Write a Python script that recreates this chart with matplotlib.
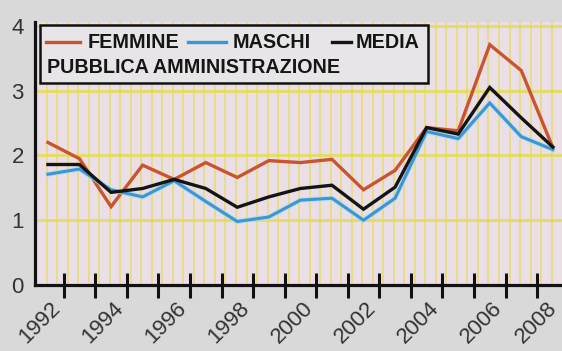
import matplotlib
matplotlib.use("Agg")
import matplotlib.pyplot as plt
from matplotlib.ticker import MultipleLocator, FixedLocator, NullFormatter
from matplotlib.lines import Line2D
from matplotlib.patches import Rectangle
import matplotlib.transforms as mtransforms
import numpy as np

years = list(range(1992, 2009))
femmine = [2.20, 1.95, 1.21, 1.85, 1.63, 1.89, 1.66, 1.92, 1.89, 1.94, 1.47, 1.77, 2.43, 2.38, 3.71, 3.31, 2.12]
maschi  = [1.71, 1.79, 1.47, 1.36, 1.61, 1.29, 0.98, 1.05, 1.31, 1.34, 1.00, 1.34, 2.37, 2.26, 2.81, 2.29, 2.09]
media   = [1.86, 1.86, 1.43, 1.49, 1.63, 1.49, 1.20, 1.36, 1.49, 1.54, 1.17, 1.51, 2.43, 2.33, 3.05, 2.58, 2.13]
xlabels = ["1992", "1994", "1996", "1998", "2000", "2002", "2004", "2006", "2008"]
yticks = [0, 1, 2, 3, 4]
legend_names = ["FEMMINE", "MASCHI", "MEDIA"]
legend_sub = "PUBBLICA AMMINISTRAZIONE"

RED = "#c9542f"
BLUE = "#3a96d4"
BLACK = "#141414"
W, H = 562, 351

fig = plt.figure(figsize=(W / 100, H / 100), dpi=100)
fig.patch.set_facecolor("#dad9da")
ax = fig.add_axes([35 / W, (H - 285) / H, 1 - 35 / W, (285 - 22) / H])
ax.set_facecolor("#eadfe6")

ax.set_xlim(1991.59, 2008.29)
ax.set_ylim(0, 4.06)

# yellow grid
ax.xaxis.set_minor_locator(MultipleLocator(1 / 3, offset=0.96))
ax.grid(which="minor", axis="x", color="#e6dc6a", lw=1.3, alpha=0.8)
ax.yaxis.set_major_locator(FixedLocator(yticks))
ax.grid(which="major", axis="y", color="#e3dc4c", lw=2.0, alpha=0.85)
ax.set_axisbelow(True)

# lines
ax.plot(years, femmine, color=RED, lw=2.4, solid_joinstyle="miter", zorder=3)
ax.plot(years, maschi, color="#a8dcf2", lw=3.6, zorder=3.5, alpha=0.7)
ax.plot(years, maschi, color=BLUE, lw=2.2, solid_joinstyle="miter", zorder=4)
ax.plot(years, media, color=BLACK, lw=2.4, solid_joinstyle="miter", zorder=5)

# spines
for s in ["top", "right"]:
    ax.spines[s].set_visible(False)
for s in ["left", "bottom"]:
    ax.spines[s].set_linewidth(2.3)
    ax.spines[s].set_color("#111111")
    ax.spines[s].set_zorder(6)

# y ticks
ax.set_yticks(yticks)
ax.set_yticklabels([str(v) for v in yticks], fontsize=16, color="#333333",
                   family="Liberation Sans")
ax.tick_params(axis="y", which="both", length=0, pad=8)

# x ticks: between years, crossing the axis
ax.xaxis.set_major_locator(FixedLocator([y + 0.5 for y in years[:-1]]))
ax.xaxis.set_major_formatter(NullFormatter())
ax.tick_params(axis="x", which="major", direction="inout", length=18, width=2.2,
               color="#111111")
ax.tick_params(axis="x", which="minor", length=0)

trans = mtransforms.blended_transform_factory(ax.transData, ax.transAxes)
for lab in xlabels:
    xv = min(int(lab) + 0.3, 2008.03)
    ax.text(xv, -0.075, lab, transform=trans, rotation=45, rotation_mode="anchor",
            ha="right", va="center", fontsize=16, color="#333333",
            family="Liberation Sans", clip_on=False)

# legend box (figure pixel coords)
def fx(x):
    return x / W

def fy(y):
    return 1 - y / H

fig.patches.append(Rectangle((fx(40), fy(83)), fx(428) - fx(40), fy(25) - fy(83),
                             transform=fig.transFigure, facecolor="#e7e5e7",
                             edgecolor="#111111", lw=1.8, zorder=10))
colors = [RED, BLUE, BLACK]
seg = [(46, 80), (188, 226), (332, 351)]
txt_x = [88, 233, 356]
for name, c, (a, b), tx in zip(legend_names, colors, seg, txt_x):
    fig.lines.append(Line2D([fx(a), fx(b)], [fy(42), fy(42)], transform=fig.transFigure,
                            color=c, lw=2.4, zorder=11))
    fig.text(fx(tx), fy(42.5), name, ha="left", va="center", fontsize=14.2,
             fontweight="bold", color="#151515", family="Liberation Sans", zorder=12)
fig.text(fx(47), fy(67.5), legend_sub, ha="left", va="center", fontsize=14.2,
         fontweight="bold", color="#151515", family="Liberation Sans", zorder=12)

fig.savefig("out.png", dpi=100, facecolor=fig.get_facecolor())
